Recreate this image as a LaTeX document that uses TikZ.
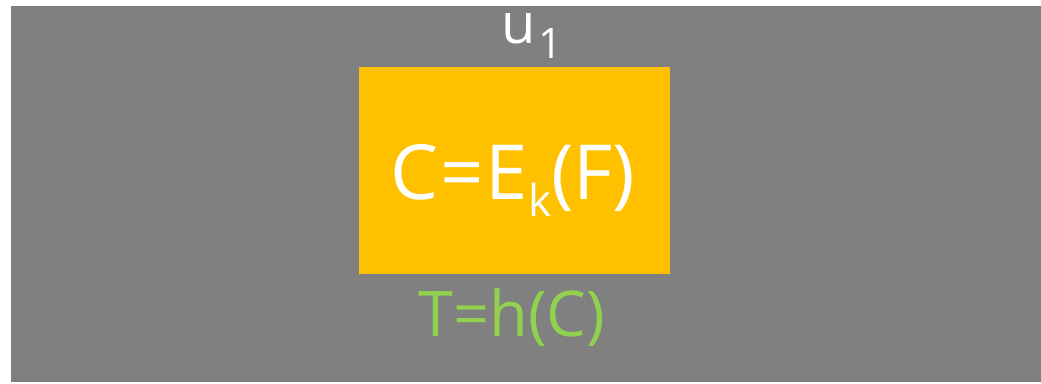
\documentclass[tikz,border=0pt]{standalone}
\usepackage{fontspec}
\setmainfont{Open Sans}
\definecolor{bggray}{HTML}{808080}
\definecolor{boxorange}{HTML}{FFC000}
\definecolor{txtgreen}{HTML}{92D050}
\begin{document}
\begin{tikzpicture}[x=1pt,y=-1pt,
  lbl/.style={inner sep=0pt,anchor=base,text=white}]
\useasboundingbox (0,0) rectangle (1041,383);
\fill[white] (0,0) rectangle (1041,383);
\fill[bggray] (11,6) rectangle (1041,382);
\node[fill=boxorange,minimum width=311pt,minimum height=207pt,inner sep=0pt,anchor=north west] (box) at (359,67) {};
\node[lbl] (enc) at (513,199) {\fontsize{76}{80}\selectfont C\kern2pt=\kern2pt E\raisebox{-17pt}{\fontsize{44}{46}\selectfont k}(F)};
\node[lbl] (user) at (532,43) {\fontsize{56}{60}\selectfont u\kern2pt\raisebox{-15pt}{\fontsize{42}{44}\selectfont 1}};
\node[lbl,text=txtgreen] (tag) at (512,336) {\fontsize{63}{66}\selectfont T=h(C)};
\end{tikzpicture}
\end{document}
